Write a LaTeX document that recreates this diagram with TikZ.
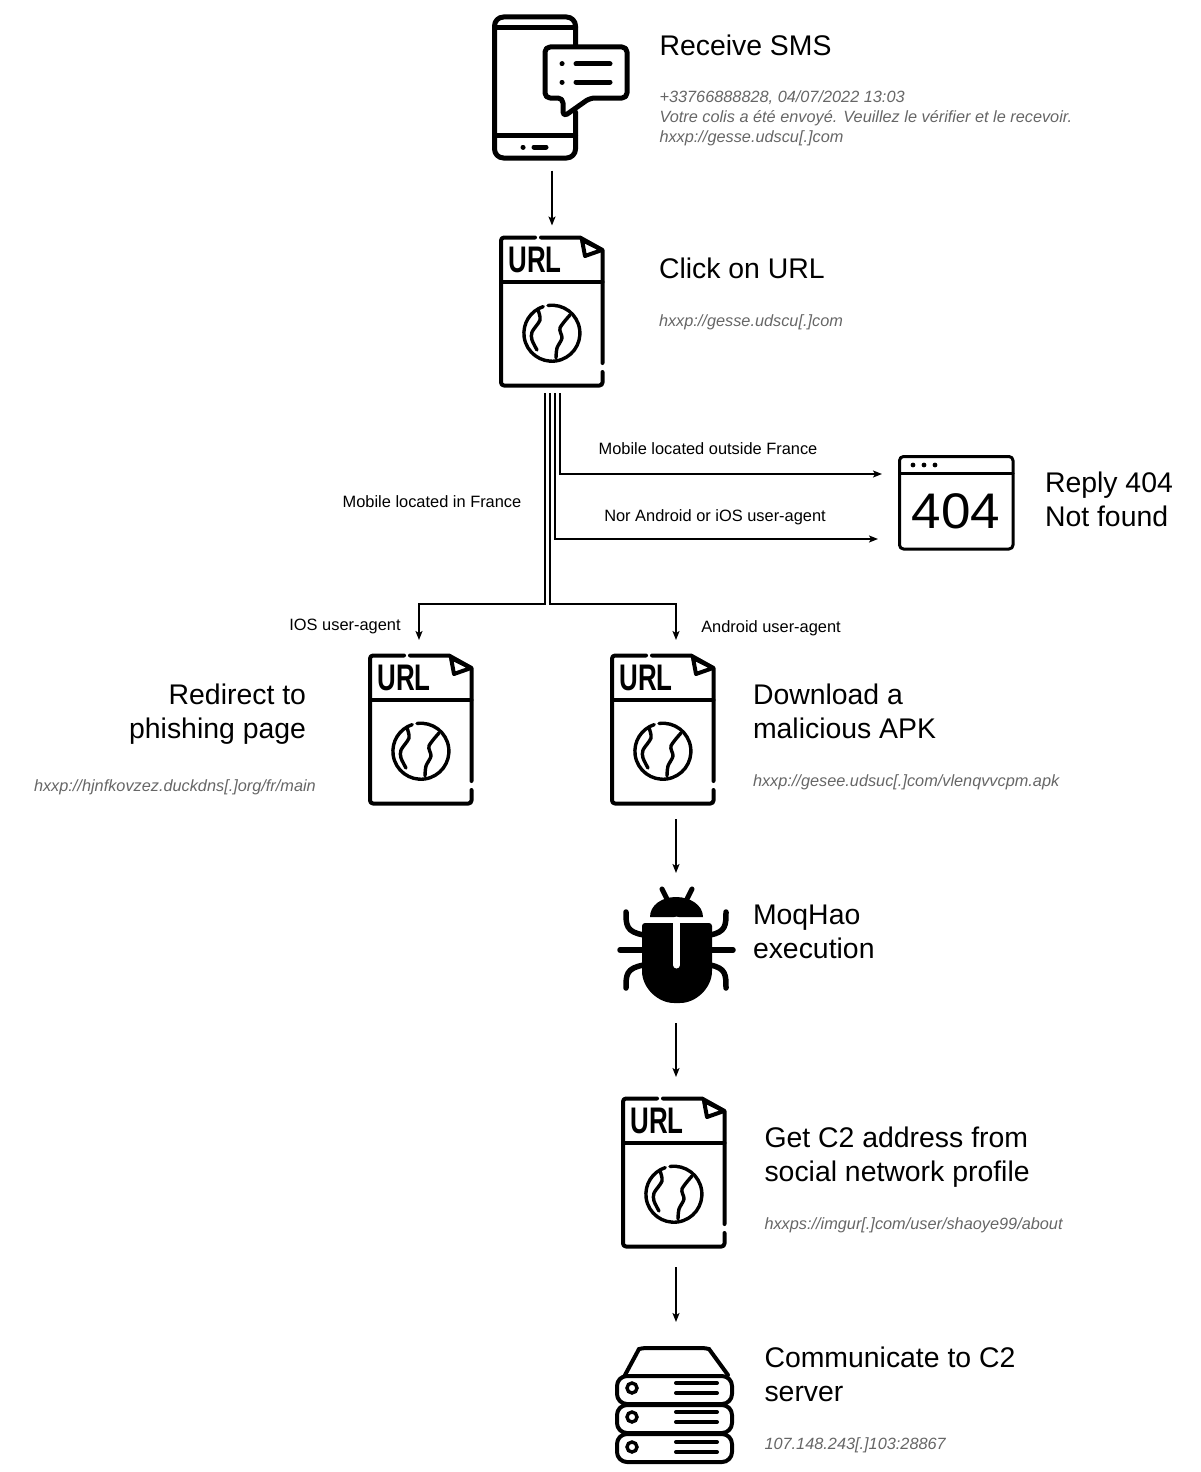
\documentclass[tikz,border=0pt]{standalone}
\usepackage{fontspec}
\setmainfont{Liberation Sans}
\usetikzlibrary{arrows.meta}
\definecolor{notegray}{HTML}{666666}
\tikzset{
	iconline/.style={line width=4pt, line join=round, line cap=round},
	iconbox/.style={inner sep=0pt, outer sep=0pt, anchor=north west},
	title/.style={inner sep=0pt, outer sep=0pt, anchor=west, align=left, font=\fontsize{28.4}{34}\selectfont},
	note/.style={inner sep=0pt, outer sep=0pt, anchor=west, align=left, text=notegray, font=\fontsize{16.3}{19.8}\selectfont\itshape},
	caption/.style={inner sep=0pt, outer sep=0pt, font=\fontsize{16.4}{20}\selectfont},
	link/.style={line width=1.4pt, ->},
	flow/.style={link, shorten <=#1, shorten >=#1},
	branch/.style={link, shorten <=6pt},
	pics/urlicon/.style={code={
		\node[iconbox, minimum width=104pt, minimum height=151pt] (-box) at (0,0) {};
		\draw[iconline, rounded corners=3pt] (35,1.5) -- (1,1.5) -- (1,149.5) -- (102.5,149.5) -- (102.5,136);
		\draw[iconline] (102.5,127) -- (102.5,14) -- (80,1.5) -- (41,1.5);
		\draw[iconline] (1,46) -- (102.5,46);
		\draw[iconline] (82,4) -- (85,20) -- (102,14) -- cycle;
		\draw[iconline, line width=3.4pt] (48,69.5) arc[start angle=-98, end angle=252, radius=28];
		\draw[iconline, line width=3.4pt, smooth] plot coordinates {(38,74) (40,84) (32,96) (32,104) (37,114)};
		\draw[iconline, line width=3.4pt, smooth] plot coordinates {(70,79) (60,92) (62,102) (57,112) (56,122)};
		\node[inner sep=0pt, xscale=.7, transform shape, font=\fontsize{37}{37}\selectfont\bfseries] (-text) at (35,24) {URL};
	}},
}
\begin{document}
\begin{tikzpicture}[x=1pt, y=-1pt, >={Stealth[length=9pt,width=7pt,inset=2pt]}]
	\useasboundingbox (0,0) rectangle (1200,1472);

	% Phone
	\node[iconbox, minimum width=136pt, minimum height=145pt] (phone) at (492,15) {};
	\draw[iconline, line width=5pt, rounded corners=9pt] (575.5,45) -- (575.5,17) -- (494.5,17) -- (494.5,158) -- (575.5,158) -- (575.5,112);
	\draw[iconline, line width=5pt] (494.5,28) -- (575.5,28);
	\draw[iconline, line width=5pt] (494.5,135) -- (575.5,135);
	\draw[iconline, line width=5pt] (523,147) -- (523.1,147);
	\draw[iconline, line width=5pt] (534,147) -- (546,147);
	\draw[iconline, line width=5pt, rounded corners=5pt] (563,117) -- (563,98) -- (545,98) -- (545,47) -- (627,47) -- (627,98) -- (590,98) -- cycle;
	\foreach \yy in {64,82} {
		\draw[iconline, line width=5pt] (562,\yy) -- (562.1,\yy);
		\draw[iconline, line width=5pt] (576,\yy) -- (610,\yy);
	}

	% URL icons
	\pic (click) at (500,236) {urlicon};
	\pic (redirect) at (369,654) {urlicon};
	\pic (apk) at (611,654) {urlicon};
	\pic (social) at (622,1097) {urlicon};

	% 404 window
	\node[iconbox, minimum width=116pt, minimum height=96pt] (notfound) at (898,455) {};
	\draw[iconline, line width=3pt, rounded corners=4pt] (899.5,456.5) rectangle (1013,549);
	\draw[iconline, line width=3pt] (899.5,473) -- (1013,473);
	\foreach \xx in {913,924,935} {
		\fill (\xx,465) circle[radius=2.4];
	}
	\node[inner sep=0pt, xscale=1.06, transform shape, font=\fontsize{50}{50}\selectfont] (notfoundtext) at (956,511) {404};

	% Bug
	\node[iconbox, minimum width=116pt, minimum height=116pt] (bug) at (618,887) {};
	\fill (650,917) .. controls (650,905) and (662,897) .. (676,897) .. controls (690,897) and (703,905) .. (703,917) -- cycle;
	\draw[iconline, line width=5pt] (662,889) -- (667,899);
	\draw[iconline, line width=5pt] (692,889) -- (687,899);
	\fill[rounded corners=3pt] (642,923) -- (712,923) -- (712,968) .. controls (712,988) and (696,1003) .. (677,1003) .. controls (658,1003) and (642,988) .. (642,968) -- cycle;
	\draw[white, line width=7pt, line cap=round] (676.5,920) -- (676.5,965);
	\foreach \xa/\xb in {626/644,726/710} {
		\draw[iconline, line width=5.5pt] (\xa,912) .. controls (\xa,925) and (\xa,932) .. (\xb,935);
		\draw[iconline, line width=5.5pt] (\xa,988) .. controls (\xa,975) and (\xa,968) .. (\xb,965);
	}
	\draw[iconline, line width=5.5pt] (620,950) -- (644,950);
	\draw[iconline, line width=5.5pt] (710,950) -- (733,950);

	% Server
	\node[iconbox, minimum width=116pt, minimum height=122pt] (server) at (617,1341) {};
	\draw[iconline] (625,1375) -- (639,1349) [rounded corners=4pt] -- (642,1348) -- (706,1348) [sharp corners] -- (709,1349) -- (728,1375);
	\foreach \yy/\yc in {1376/1388,1405/1417,1434/1447} {
		\draw[iconline, rounded corners=10pt] (617,\yy) rectangle (732,\yy+28);
		\draw[line width=3.4pt] (632,\yc) circle[radius=5];
		\draw[iconline] (676,\yc-5) -- (717,\yc-5);
		\draw[iconline] (676,\yc+5) -- (717,\yc+5);
	}

	% Free ends of the branches
	\coordinate (iosturn) at (419,604);
	\coordinate (iosend) at (419,640);
	\coordinate (androidturn) at (676,604);
	\coordinate (androidend) at (676,640);
	\coordinate (outsideend) at (882,474);
	\coordinate (agentend) at (878,539);

	% Connectors
	\draw[flow=10.5pt] (phone.south -| click-box.south) -- (click-box.north);
	\draw[branch] ([xshift=8pt]click-box.south) |- (outsideend);
	\draw[branch] ([xshift=3pt]click-box.south) |- (agentend);
	\draw[branch] ([xshift=-7pt]click-box.south) |- (iosturn) -- (iosend);
	\draw[branch] ([xshift=-2pt]click-box.south) |- (androidturn) -- (androidend);
	\draw[flow=14pt] (apk-box.south -| bug.north) -- (bug.north);
	\draw[flow=20pt] (bug.south) -- (bug.south |- social-box.north);
	\draw[flow=19pt] (bug.south |- social-box.south) -- (bug.south |- server.north);

	% Connector labels
	\node[caption] (outsidelabel) at (708,449) {Mobile located outside France};
	\node[caption] (agentlabel) at (715,517) {Nor Android or iOS user-agent};
	\node[caption] (francelabel) at (432,502) {Mobile located in France};
	\node[caption] (ioslabel) at (345,626) {IOS user-agent};
	\node[caption] (androidlabel) at (771,628) {Android user-agent};

	% Titles
	\node[title] (smstitle) at (659.5,45) {Receive SMS};
	\node[note] (smsnote) at (659.5,118) {+33766888828, 04/07/2022 13:03\\Votre colis a été envoyé. Veuillez le vérifier et le recevoir.\\hxxp://gesse.udscu[.]com};
	\node[title] (clicktitle) at (659,268) {Click on URL};
	\node[note] (clicknote) at (659,322) {hxxp://gesse.udscu[.]com};
	\node[title] (replytitle) at (1045,499) {Reply 404\\Not found};
	\node[title, anchor=east, align=right] (redirecttitle) at (306,714) {Redirect to\\phishing page};
	\node[note] (redirectnote) at (34,787) {hxxp://hjnfkovzez.duckdns[.]org/fr/main};
	\node[title] (apktitle) at (753,711) {Download a\\malicious APK};
	\node[note] (apknote) at (753,782) {hxxp://gesee.udsuc[.]com/vlenqvvcpm.apk};
	\node[title] (bugtitle) at (753,932) {MoqHao\\execution};
	\node[title] (socialtitle) at (764.5,1157) {Get C2 address from\\social network profile};
	\node[note] (socialnote) at (764.5,1225) {hxxps://imgur[.]com/user/shaoye99/about};
	\node[title] (servertitle) at (764.5,1374) {Communicate to C2\\server};
	\node[note] (servernote) at (764.5,1445) {107.148.243[.]103:28867};
\end{tikzpicture}
\end{document}
